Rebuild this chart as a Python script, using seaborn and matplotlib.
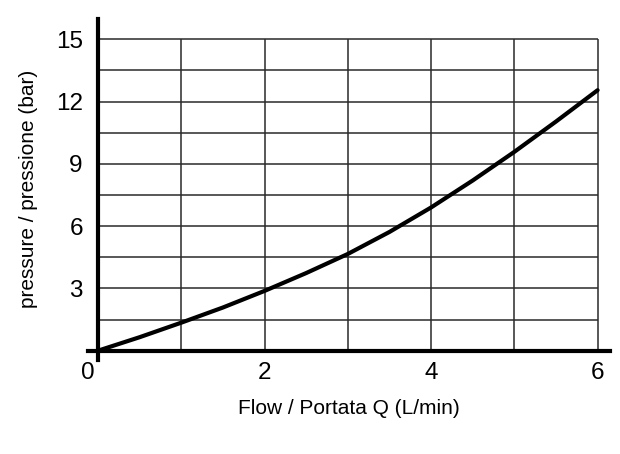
import numpy as np
import pandas as pd
import matplotlib
matplotlib.use("Agg")
import matplotlib.pyplot as plt
import matplotlib.transforms as mtransforms
import seaborn as sns

# values
flow = [0, 0.5, 1, 1.5, 2, 2.5, 3, 3.5, 4, 4.5, 5, 5.5, 6]
pressure = [0, 0.65, 1.35, 2.08, 2.88, 3.74, 4.66, 5.72, 6.9, 8.2, 9.58, 11.04, 12.55]

x_ticks = [0, 2, 4, 6]
y_ticks = [3, 6, 9, 12, 15]
x_grid = [1, 2, 3, 4, 5, 6]
y_grid = [1.5, 3, 4.5, 6, 7.5, 9, 10.5, 12, 13.5, 15]

sns.set_theme(style="white")
plt.rcParams["font.family"] = ["Liberation Sans", "DejaVu Sans"]
plt.rcParams["text.color"] = "black"
plt.rcParams["axes.labelcolor"] = "black"

df = pd.DataFrame({"flow": flow, "pressure": pressure})

fig = plt.figure(figsize=(6.2, 4.54), dpi=100)
ax = fig.add_axes([0.142, 0.207, 0.842, 0.752])

# bounded grid (0..6, 0..15)
ax.hlines(y_grid, 0, 6, colors="#2a2a2a", linewidth=1.1, zorder=1)
ax.vlines(x_grid, 0, 15, colors="#2a2a2a", linewidth=1.1, zorder=1)

sns.lineplot(data=df, x="flow", y="pressure", color="black", linewidth=3, ax=ax, zorder=3)

ax.set_xlim(-0.12, 6.15)
ax.set_ylim(-0.45, 16)
ax.set_xticks(x_ticks)
ax.set_yticks(y_ticks)
ax.tick_params(axis="both", length=0, labelsize=17.5, colors="black")
ax.tick_params(axis="x", pad=8)
ax.tick_params(axis="y", pad=11)

for s in ["top", "right"]:
    ax.spines[s].set_visible(False)
for s in ["left", "bottom"]:
    ax.spines[s].set_linewidth(3)
    ax.spines[s].set_color("black")
ax.spines["left"].set_position(("data", 0))
ax.spines["bottom"].set_position(("data", 0))

# shift the "0" label slightly left like the original
zero = ax.get_xticklabels()[0]
zero.set_transform(zero.get_transform() + mtransforms.ScaledTranslation(-10 / 100, 0, fig.dpi_scale_trans))

ax.set_xlabel("Flow / Portata Q (L/min)", fontsize=15, labelpad=11)
ax.set_ylabel("pressure / pressione (bar)", fontsize=15, labelpad=13)

fig.savefig("out.png", dpi=100)
